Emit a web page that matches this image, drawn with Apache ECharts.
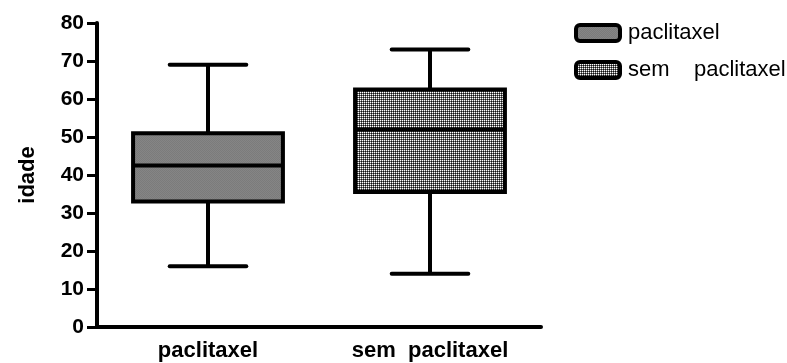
<!DOCTYPE html>
<html>
<head>
<meta charset="utf-8">
<script src="https://cdn.jsdelivr.net/npm/echarts@6/dist/echarts.min.js"></script>
<style>
html,body{margin:0;padding:0;background:#fff;}
#chart{width:787px;height:363px;}
</style>
</head>
<body>
<div id="chart"></div>
<script>
// Data
const categories = ['paclitaxel', 'sem  paclitaxel'];
// [min, Q1, median, Q3, max]
const paclitaxelValues = [16, 33, 42.5, 51, 69];
const semPaclitaxelValues = [14, 35.5, 52, 62.5, 73];
const yTickValues = [0, 10, 20, 30, 40, 50, 60, 70, 80];

function makePattern(colors) {
  const c = document.createElement('canvas');
  c.width = 2; c.height = 2;
  const ctx = c.getContext('2d');
  ctx.fillStyle = colors[0]; ctx.fillRect(0, 0, 1, 1);
  ctx.fillStyle = colors[1]; ctx.fillRect(1, 0, 1, 1);
  ctx.fillStyle = colors[2]; ctx.fillRect(0, 1, 1, 1);
  ctx.fillStyle = colors[3]; ctx.fillRect(1, 1, 1, 1);
  return { image: c, repeat: 'repeat' };
}
const fill1 = makePattern(['#7b7b7b', '#858585', '#858585', '#7b7b7b']);
const fill2 = makePattern(['#ffffff', '#6a6a6a', '#6a6a6a', '#111111']);

function renderBox(fill) {
  return function (params, api) {
    const xi = api.value(0);
    const lo = api.value(1), q1 = api.value(2), med = api.value(3), q3 = api.value(4), hi = api.value(5);
    const band = api.size([1, 0])[0];
    const cx = api.coord([xi, 0])[0];
    const bw = band * 0.675, cw = band * 0.345;
    const y = v => api.coord([xi, v])[1];
    const ls = { stroke: '#000', lineWidth: 4, lineCap: 'butt' };
    return {
      type: 'group',
      children: [
        { type: 'line', shape: { x1: cx, y1: y(q3), x2: cx, y2: y(hi) }, style: ls },
        { type: 'line', shape: { x1: cx, y1: y(q1), x2: cx, y2: y(lo) }, style: ls },
        { type: 'line', shape: { x1: cx - cw / 2, y1: y(hi), x2: cx + cw / 2, y2: y(hi) }, style: { stroke: '#000', lineWidth: 4, lineCap: 'round' } },
        { type: 'line', shape: { x1: cx - cw / 2, y1: y(lo), x2: cx + cw / 2, y2: y(lo) }, style: { stroke: '#000', lineWidth: 4, lineCap: 'round' } },
        { type: 'rect', shape: { x: cx - bw / 2, y: y(q3), width: bw, height: y(q1) - y(q3) }, style: { fill: fill, stroke: '#000', lineWidth: 4 } },
        { type: 'line', shape: { x1: cx - bw / 2, y1: y(med), x2: cx + bw / 2, y2: y(med) }, style: ls }
      ]
    };
  };
}

const chart = echarts.init(document.getElementById('chart'), null, { renderer: 'canvas' });
const font = 'Liberation Sans, Arial, sans-serif';
chart.setOption({
  animation: false,
  grid: { left: 97, top: 23, right: 246, bottom: 36, containLabel: false },
  legend: {
    orient: 'vertical',
    left: 574,
    top: 22,
    padding: 0,
    itemWidth: 44,
    itemHeight: 16,
    itemGap: 15,
    icon: 'roundRect',
    formatter: function (name) { return name.replace('  ', '    '); },
    textStyle: { fontFamily: font, fontSize: 22, lineHeight: 22, color: '#000', padding: [0, 0, 0, 3] },
    data: [
      { name: categories[0], itemStyle: { color: fill1, borderColor: '#000', borderWidth: 4 } },
      { name: categories[1], itemStyle: { color: fill2, borderColor: '#000', borderWidth: 4 } }
    ]
  },
  xAxis: {
    type: 'category',
    data: categories,
    axisLine: { lineStyle: { color: '#000', width: 4 } },
    axisTick: { alignWithLabel: true, length: 6, lineStyle: { color: '#000', width: 3 } },
    axisLabel: { color: '#000', fontFamily: font, fontWeight: 'bold', fontSize: 22, margin: 13 },
    splitLine: { show: false }
  },
  yAxis: {
    type: 'value',
    min: yTickValues[0],
    max: yTickValues[yTickValues.length - 1],
    interval: 10,
    name: 'idade',
    nameLocation: 'middle',
    nameGap: 58,
    nameRotate: 90,
    nameTextStyle: { color: '#000', fontFamily: font, fontWeight: 'bold', fontSize: 22 },
    axisLine: { show: true, lineStyle: { color: '#000', width: 4 } },
    axisTick: { show: true, length: 10, lineStyle: { color: '#000', width: 3 } },
    axisLabel: { color: '#000', fontFamily: font, fontWeight: 'bold', fontSize: 21, margin: 13 },
    splitLine: { show: false }
  },
  series: [
    {
      name: categories[0],
      type: 'custom',
      renderItem: renderBox(fill1),
      itemStyle: { color: fill1, borderColor: '#000', borderWidth: 4 },
      encode: { x: 0, y: [1, 2, 3, 4, 5] },
      data: [[0].concat(paclitaxelValues)]
    },
    {
      name: categories[1],
      type: 'custom',
      renderItem: renderBox(fill2),
      itemStyle: { color: fill2, borderColor: '#000', borderWidth: 4 },
      encode: { x: 0, y: [1, 2, 3, 4, 5] },
      data: [[1].concat(semPaclitaxelValues)]
    }
  ]
});
</script>
</body>
</html>
